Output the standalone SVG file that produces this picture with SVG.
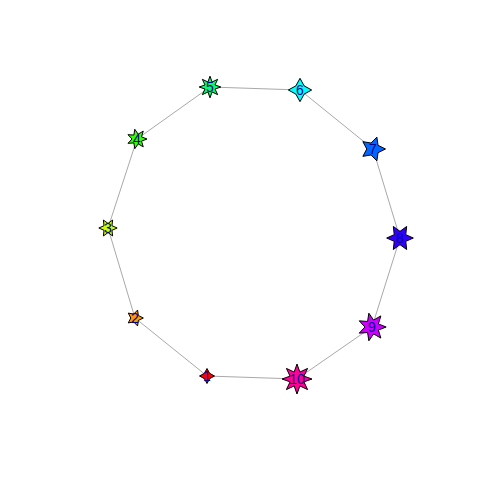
<svg xmlns="http://www.w3.org/2000/svg" xmlns:xlink="http://www.w3.org/1999/xlink" width="480" height="480" viewBox="0 0 480 480">
<style>
.edge{stroke:#A9A9A9;stroke-width:1;fill:none}
.star{stroke:#000;stroke-width:1;vector-effect:non-scaling-stroke;stroke-linejoin:miter}
.lbl{font-family:"Liberation Sans",Arial,sans-serif;font-size:14px;fill:#00008B;text-anchor:middle}
</style>
<defs>
<polygon id="s4" class="star" points="10,0 3.536,-3.536 0,-10 -3.536,-3.536 -10,0 -3.536,3.536 0,10 3.536,3.536"/>
<polygon id="s5" class="star" points="10,0 4.045,-2.939 3.090,-9.511 -1.545,-4.755 -8.090,-5.878 -5,0 -8.090,5.878 -1.545,4.755 3.090,9.511 4.045,2.939"/>
<polygon id="s6" class="star" points="10,0 4.330,-2.5 5,-8.660 0,-5 -5,-8.660 -4.330,-2.5 -10,0 -4.330,2.5 -5,8.660 0,5 5,8.660 4.330,2.5"/>
<polygon id="s7" class="star" points="10,0 4.505,-2.169 6.235,-7.818 1.113,-4.875 -2.225,-9.749 -3.117,-3.909 -9.010,-4.339 -5,0 -9.010,4.339 -3.117,3.909 -2.225,9.749 1.113,4.875 6.235,7.818 4.505,2.169"/>
<polygon id="s8" class="star" points="10,0 4.619,-1.913 7.071,-7.071 1.913,-4.619 0,-10 -1.913,-4.619 -7.071,-7.071 -4.619,-1.913 -10,0 -4.619,1.913 -7.071,7.071 -1.913,4.619 0,10 1.913,4.619 7.071,7.071 4.619,1.913"/>
</defs>
<rect width="480" height="480" fill="#fff"/>
<g id="edges">
<line class="edge" x1="207" y1="376" x2="135" y2="318"/>
<line class="edge" x1="135" y1="318" x2="108" y2="228"/>
<line class="edge" x1="108" y1="228" x2="137" y2="139"/>
<line class="edge" x1="137" y1="139" x2="210" y2="87"/>
<line class="edge" x1="210" y1="87" x2="300" y2="90"/>
<line class="edge" x1="300" y1="90" x2="373" y2="149"/>
<line class="edge" x1="373" y1="149" x2="400" y2="238"/>
<line class="edge" x1="400" y1="238" x2="372" y2="327"/>
<line class="edge" x1="372" y1="327" x2="297" y2="379"/>
<line class="edge" x1="297" y1="379" x2="207" y2="376"/>
</g>
<g id="n1"><use xlink:href="#s4" fill="#FF0000" transform="translate(207,376) scale(0.75)"/><text class="lbl" x="207" y="381">1</text></g>
<g id="n2"><use xlink:href="#s5" fill="#FF9900" transform="translate(135,318) scale(0.833)"/><text class="lbl" x="135" y="323">2</text></g>
<g id="n3"><use xlink:href="#s6" fill="#CCFF00" transform="translate(108,228) scale(0.917)"/><text class="lbl" x="108" y="233">3</text></g>
<g id="n4"><use xlink:href="#s7" fill="#33FF00" transform="translate(137,139) scale(1.0)"/><text class="lbl" x="137" y="144">4</text></g>
<g id="n5"><use xlink:href="#s8" fill="#00FF66" transform="translate(210,87) scale(1.083)"/><text class="lbl" x="210" y="92">5</text></g>
<g id="n6"><use xlink:href="#s4" fill="#00FFFF" transform="translate(300,90) scale(1.167)"/><text class="lbl" x="300" y="95">6</text></g>
<g id="n7"><use xlink:href="#s5" fill="#0066FF" transform="translate(373,149) scale(1.25)"/><text class="lbl" x="373" y="154">7</text></g>
<g id="n8"><use xlink:href="#s6" fill="#3300FF" transform="translate(400,238) scale(1.333)"/><text class="lbl" x="400" y="243">8</text></g>
<g id="n9"><use xlink:href="#s7" fill="#CC00FF" transform="translate(372,327) scale(1.417)"/><text class="lbl" x="372" y="332">9</text></g>
<g id="n10"><use xlink:href="#s8" fill="#FF0099" transform="translate(297,379) scale(1.5)"/><text class="lbl" x="297" y="384">10</text></g>
</svg>
